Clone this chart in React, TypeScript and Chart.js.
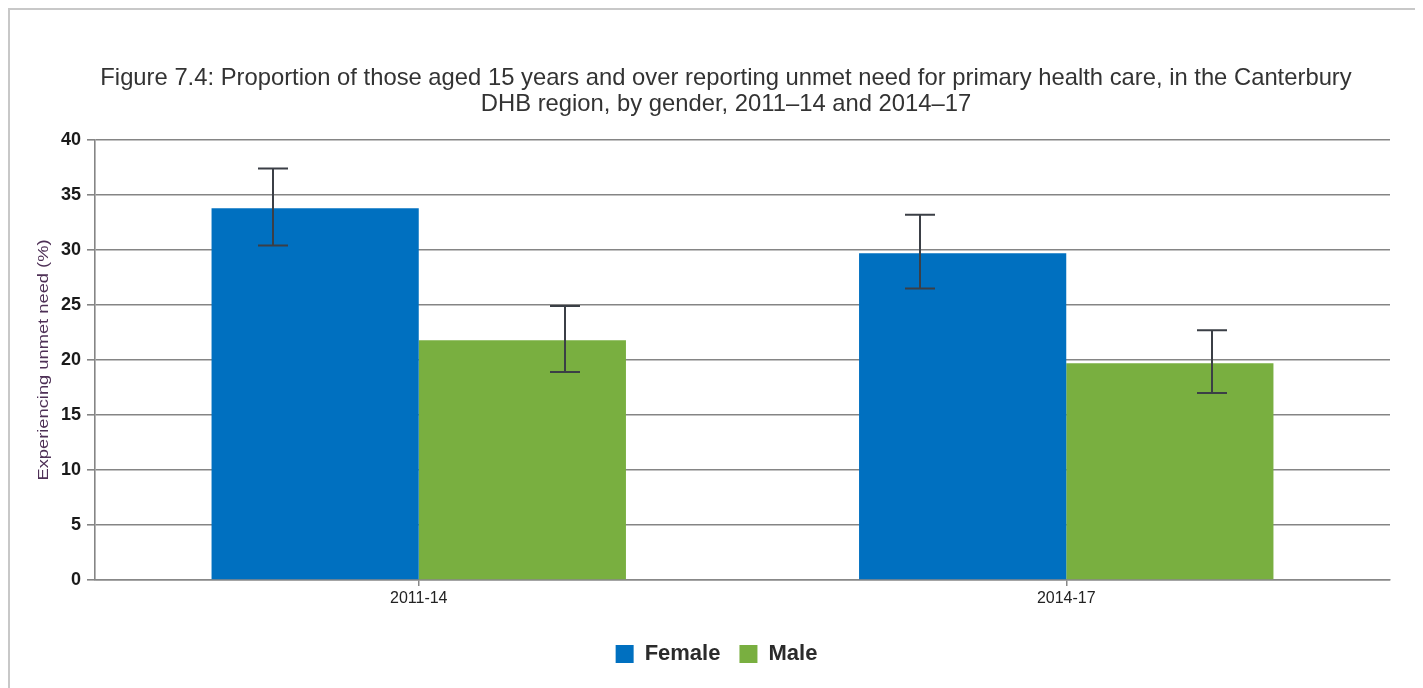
import React, { useEffect, useRef } from "react";
import { Chart, registerables } from "chart.js";

Chart.register(...registerables);

const categories = ["2011-14", "2014-17"];
const seriesNames = ["Female", "Male"];
const femaleValues = [33.8, 29.7];
const maleValues = [21.8, 19.7];
const femaleLower = [30.4, 26.5];
const femaleUpper = [37.4, 33.2];
const maleLower = [18.9, 17.0];
const maleUpper = [24.9, 22.7];
const titleLines = [
  "Figure 7.4: Proportion of those aged 15 years and over reporting unmet need for primary health care, in the Canterbury",
  "DHB region, by gender, 2011\u201314 and 2014\u201317",
];
const yAxisTitle = "Experiencing unmet need (%)";

const FONT = "'Liberation Sans', Arial, sans-serif";
const BLUE = "#0070C0";
const GREEN = "#79AF40";

const errorBarPlugin = {
  id: "errorBars",
  afterDatasetsDraw(chart: any) {
    const ctx = chart.ctx;
    const yScale = chart.scales.y;
    const bounds = [
      [femaleLower, femaleUpper],
      [maleLower, maleUpper],
    ];
    ctx.save();
    ctx.strokeStyle = "#3b3f46";
    ctx.lineWidth = 2;
    chart.data.datasets.forEach((_: any, di: number) => {
      const meta = chart.getDatasetMeta(di);
      meta.data.forEach((bar: any, j: number) => {
        const shift = (di === 0 ? -1 : 1) * bar.width * 0.205;
        const x = Math.round(bar.x + shift);
        const yLo = yScale.getPixelForValue(bounds[di][0][j]);
        const yHi = yScale.getPixelForValue(bounds[di][1][j]);
        const half = 15;
        ctx.beginPath();
        ctx.moveTo(x, yHi);
        ctx.lineTo(x, yLo);
        ctx.moveTo(x - half, yHi);
        ctx.lineTo(x + half, yHi);
        ctx.moveTo(x - half, yLo);
        ctx.lineTo(x + half, yLo);
        ctx.stroke();
      });
    });
    ctx.restore();
  },
};

const textPlugin = {
  id: "customTexts",
  afterDraw(chart: any) {
    const ctx = chart.ctx;
    const area = chart.chartArea;
    ctx.save();
    // Title
    ctx.fillStyle = "#333333";
    ctx.font = `23.8px ${FONT}`;
    ctx.textAlign = "center";
    ctx.textBaseline = "alphabetic";
    ctx.fillText(titleLines[0], 716, 75);
    ctx.fillText(titleLines[1], 716, 101);
    // Y axis title (rotated)
    ctx.translate(34, (area.top + area.bottom) / 2);
    ctx.rotate(-Math.PI / 2);
    ctx.scale(1.22, 1);
    ctx.fillStyle = "#4e3056";
    ctx.font = `15px ${FONT}`;
    ctx.textAlign = "center";
    ctx.textBaseline = "middle";
    ctx.fillText(yAxisTitle, 0, 0);
    ctx.restore();
  },
};

export default function App() {
  const canvasRef = useRef<HTMLCanvasElement | null>(null);

  useEffect(() => {
    document.body.style.overflow = "hidden";
    const canvas = canvasRef.current;
    if (!canvas) return;
    const chart = new Chart(canvas, {
      type: "bar",
      data: {
        labels: categories,
        datasets: [
          {
            label: seriesNames[0],
            data: femaleValues,
            backgroundColor: BLUE,
            borderWidth: 0,
            categoryPercentage: 0.64,
            barPercentage: 1.0,
          },
          {
            label: seriesNames[1],
            data: maleValues,
            backgroundColor: GREEN,
            borderWidth: 0,
            categoryPercentage: 0.64,
            barPercentage: 1.0,
          },
        ],
      },
      options: {
        responsive: false,
        animation: false,
        devicePixelRatio: 1,
        layout: { padding: { top: 130, left: 0, right: 0, bottom: 13 } },
        plugins: {
          title: { display: false },
          tooltip: { enabled: false },
          legend: {
            display: true,
            position: "bottom",
            labels: {
              boxWidth: 18,
              boxHeight: 18,
              padding: 19,
              color: "#2b2b2b",
              font: { family: FONT, size: 22, weight: "bold" },
            },
          },
        },
        scales: {
          x: {
            grid: {
              display: true,
              drawOnChartArea: false,
              drawTicks: true,
              tickLength: 6,
              offset: false,
              color: "#888888",
              lineWidth: 1.5,
            },
            border: { display: true, color: "#888888", width: 1.5 },
            ticks: {
              color: "#222222",
              padding: 3,
              font: { family: FONT, size: 16 },
            },
            afterFit: (s: any) => {
              s.height = 44;
            },
          },
          y: {
            min: 0,
            max: 40,
            ticks: {
              stepSize: 5,
              color: "#1a1a1a",
              padding: 6,
              font: { family: FONT, size: 18, weight: "bold" },
            },
            grid: {
              color: "#858585",
              lineWidth: 1.6,
              drawTicks: true,
              tickLength: 8,
            },
            border: { display: true, color: "#858585", width: 1.6 },
            title: { display: false },
            afterFit: (s: any) => {
              s.width = 85;
            },
          },
          yRight: {
            position: "right",
            display: true,
            grid: { display: false, drawTicks: false },
            border: { display: false },
            ticks: { display: false },
            afterFit: (s: any) => {
              s.width = 33;
            },
          },
        },
      },
      plugins: [errorBarPlugin, textPlugin],
    });
    return () => chart.destroy();
  }, []);

  return (
    <div
      style={{
        position: "relative",
        width: 1415,
        height: 680,
        boxSizing: "border-box",
        borderTop: "2px solid #c8c8c8",
        borderLeft: "2px solid #c8c8c8",
        overflow: "hidden",
        background: "#ffffff",
      }}
    >
      <canvas
        ref={canvasRef}
        width={1413}
        height={678}
        style={{ position: "absolute", left: 0, top: 0 }}
      />
    </div>
  );
}
